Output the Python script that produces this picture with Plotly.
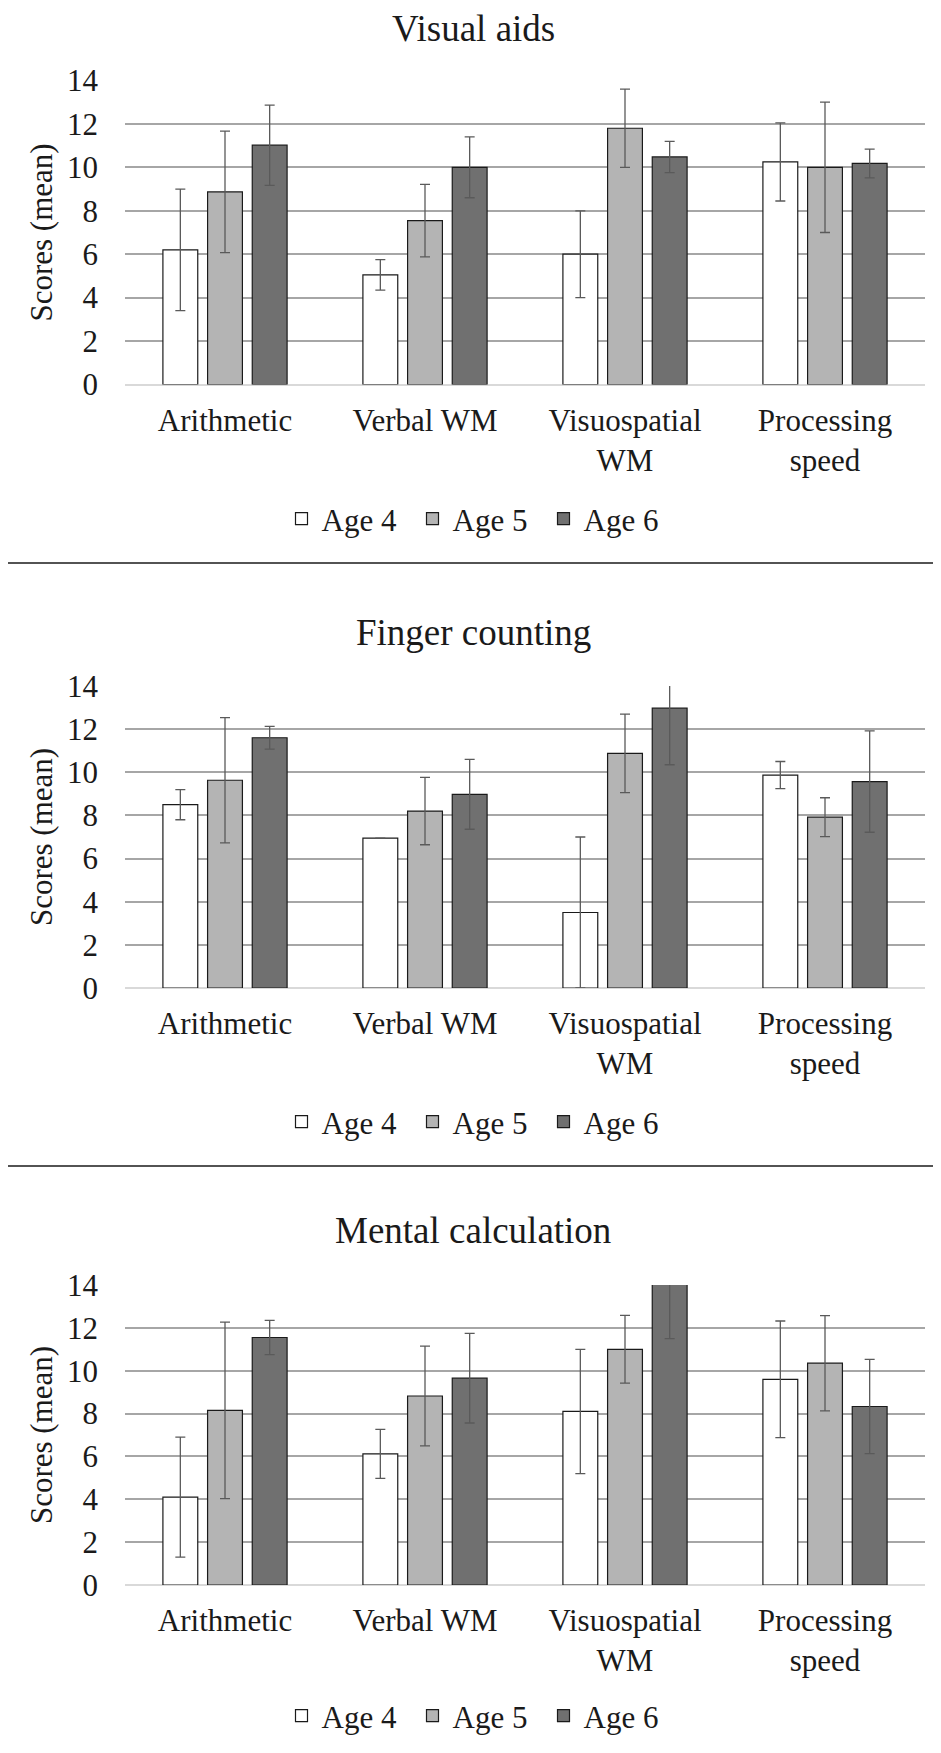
import plotly.graph_objects as go

categories = ["Arithmetic", "Verbal WM", "Visuospatial<br>WM", "Processing<br>speed"]
series_names = ["Age 4", "Age 5", "Age 6"]
panel_titles = ["Visual aids", "Finger counting", "Mental calculation"]
y_ticks = [0, 2, 4, 6, 8, 10, 12, 14]

# Visual aids
va_age4 = [6.2, 5.05, 6.0, 10.25]
va_age5 = [8.87, 7.55, 11.8, 10.0]
va_age6 = [11.02, 10.0, 10.48, 10.18]
va_err4 = [2.8, 0.7, 2.0, 1.8]
va_err5 = [2.8, 1.67, 1.8, 3.0]
va_err6 = [1.85, 1.4, 0.72, 0.66]

# Finger counting
fc_age4 = [8.5, 6.95, 3.5, 9.87]
fc_age5 = [9.63, 8.2, 10.88, 7.92]
fc_age6 = [11.6, 8.98, 12.97, 9.57]
fc_err4 = [0.7, 0.0, 3.5, 0.63]
fc_err5 = [2.9, 1.56, 1.82, 0.9]
fc_err6 = [0.53, 1.62, 2.62, 2.35]

# Mental calculation
mc_age4 = [4.1, 6.12, 8.1, 9.6]
mc_age5 = [8.15, 8.82, 11.0, 10.35]
mc_age6 = [11.55, 9.65, 14.2, 8.33]
mc_err4 = [2.8, 1.14, 2.9, 2.72]
mc_err5 = [4.12, 2.33, 1.58, 2.22]
mc_err6 = [0.8, 2.09, 2.7, 2.2]

panels = [
    ([va_age4, va_age5, va_age6], [va_err4, va_err5, va_err6]),
    ([fc_age4, fc_age5, fc_age6], [fc_err4, fc_err5, fc_err6]),
    ([mc_age4, mc_age5, mc_age6], [mc_err4, mc_err5, mc_err6]),
]

colors = ["#ffffff", "#b4b4b4", "#707070"]
FONT = "Liberation Serif, Times New Roman, serif"
W, H = 941, 1753
OFF = 8  # page body margin

plot_px = [(80.5, 384.5), (686, 988), (1285, 1585)]
title_px = [28, 632, 1230]
legend_px = [519, 1122, 1716]
sep_px = [563, 1166]
x0, x1 = (125 - OFF) / W, (925 - OFF) / W

def py(px):
    return 1 - (px - OFF) / H

def pxx(px):
    return (px - OFF) / W

fig = go.Figure()
layout = dict(
    width=W, height=H, margin=dict(l=0, r=0, t=0, b=0, autoexpand=False),
    paper_bgcolor="white", plot_bgcolor="white",
    barmode="group", bargap=0.33, bargroupgap=0.22,
    font=dict(family=FONT, size=31, color="#1a1a1a"),
    annotations=[], shapes=[],
)

for i, (vals, errs) in enumerate(panels):
    suffix = "" if i == 0 else str(i + 1)
    xa, ya = "x" + suffix, "y" + suffix
    leg = "legend" + suffix
    for s in range(3):
        fig.add_trace(go.Bar(
            x=categories, y=vals[s], name=series_names[s],
            xaxis=xa, yaxis=ya, legend=leg,
            marker=dict(color=colors[s], line=dict(color="#1a1a1a", width=1.2)),
            error_y=dict(type="data", array=errs[s], visible=True,
                         color="#5a5a5a", thickness=1.3, width=5),
        ))
    top, bot = plot_px[i]
    layout["xaxis" + suffix] = dict(
        domain=[x0, x1], anchor=ya, showgrid=False, showline=False, automargin=False,
        ticks="", tickfont=dict(size=31, family=FONT), ticklabelstandoff=14,
    )
    layout["yaxis" + suffix] = dict(
        domain=[py(bot), py(top)], anchor=xa, range=[0, 14], automargin=False,
        tickvals=y_ticks, showgrid=True, gridcolor="#a6a6a6", gridwidth=1.6,
        zeroline=True, zerolinecolor="#d9d9d9", zerolinewidth=2,
        showline=False, ticks="", tickfont=dict(size=31, family=FONT),
        ticklabelstandoff=26,
        title=dict(text="Scores (mean)", font=dict(size=31, family=FONT), standoff=5),
    )
    layout[leg] = dict(
        orientation="h", x=pxx(478), xanchor="center", y=py(legend_px[i]), yanchor="middle",
        font=dict(size=31, family=FONT), itemwidth=30, tracegroupgap=0,
        entrywidth=86, entrywidthmode="pixels",
        bgcolor="rgba(0,0,0,0)",
    )
    layout["annotations"].append(dict(
        text=panel_titles[i], xref="paper", yref="paper", x=pxx(473), y=py(title_px[i]),
        xanchor="center", yanchor="middle", showarrow=False,
        font=dict(size=37, family=FONT, color="#1a1a1a"),
    ))

for s in sep_px:
    layout["shapes"].append(dict(type="line", xref="paper", yref="paper",
                                 x0=0, x1=1, y0=py(s), y1=py(s),
                                 line=dict(color="#1a1a1a", width=1.5)))

fig.update_layout(**layout)
fig.write_html("out.html")
